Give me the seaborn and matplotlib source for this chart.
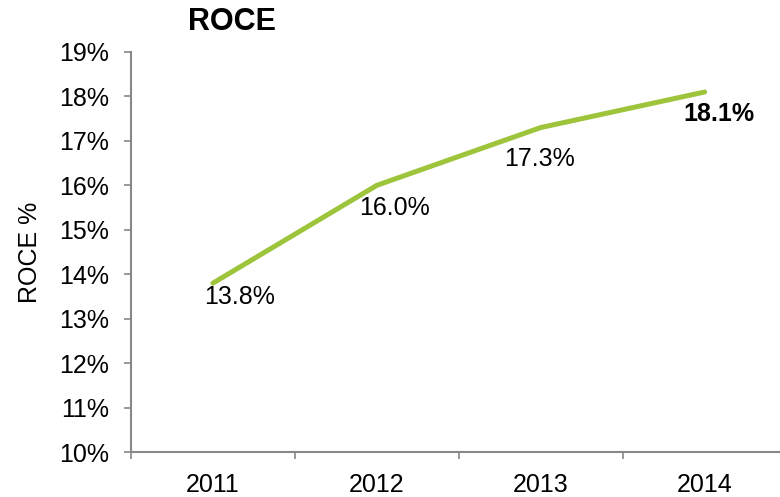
"""ROCE line chart"""
import matplotlib
matplotlib.use("Agg")
import matplotlib.pyplot as plt
import pandas as pd
import seaborn as sns

years = ["2011", "2012", "2013", "2014"]
roce = [13.8, 16.0, 17.3, 18.1]
point_labels = ["13.8%", "16.0%", "17.3%", "18.1%"]
label_offsets = [(19, -10), (13, -16), (-1, -23), (10, -16)]
label_bold = [False, False, False, True]

sns.set_style("white")
plt.rcParams["font.family"] = ["Liberation Sans", "DejaVu Sans"]
plt.rcParams["text.color"] = "black"
plt.rcParams["axes.labelcolor"] = "black"
plt.rcParams["xtick.color"] = "black"
plt.rcParams["ytick.color"] = "black"

df = pd.DataFrame({"Year": years, "ROCE": roce})

fig = plt.figure(figsize=(7.8, 4.97), dpi=100)
ax = fig.add_axes([131 / 780, 1 - 452 / 497, 1 - 131 / 780, 400 / 497])

sns.lineplot(data=df, x="Year", y="ROCE", color="#9DC43A", linewidth=3.6,
             solid_capstyle="round", ax=ax, sort=False)

for i, (val, lab) in enumerate(zip(roce, point_labels)):
    ax.annotate(lab, (i, val), xytext=label_offsets[i], textcoords="offset points",
                ha="center", va="center", fontsize=18,
                fontweight="bold" if label_bold[i] else "normal")

ax.set_ylim(10, 19)
ax.set_yticks(range(10, 20))
ax.set_yticklabels([f"{v}%" for v in range(10, 20)])
ax.set_xlim(-0.5, 3.46)
ax.set_xticks(range(4))
ax.set_xticklabels(years)
ax.set_xticks([-0.5, 0.5, 1.5, 2.5], minor=True)
ax.tick_params(axis="x", which="major", length=0, labelsize=18, pad=15)
ax.tick_params(axis="x", which="minor", length=5, width=1.2, color="#888888",
               direction="out", bottom=True)
ax.tick_params(axis="y", length=5, width=1.2, color="#888888", direction="out",
               labelsize=18, left=True, pad=11)
ax.set_xlabel("")
ax.set_ylabel("ROCE %", fontsize=18, labelpad=12)

for side in ["top", "right"]:
    ax.spines[side].set_visible(False)
for side in ["left", "bottom"]:
    ax.spines[side].set_color("#888888")
    ax.spines[side].set_linewidth(1.5)

fig.text(188 / 780, 1 - 22 / 497, "ROCE", fontsize=22, fontweight="bold",
         ha="left", va="center")

fig.savefig("out.png", dpi=100)
